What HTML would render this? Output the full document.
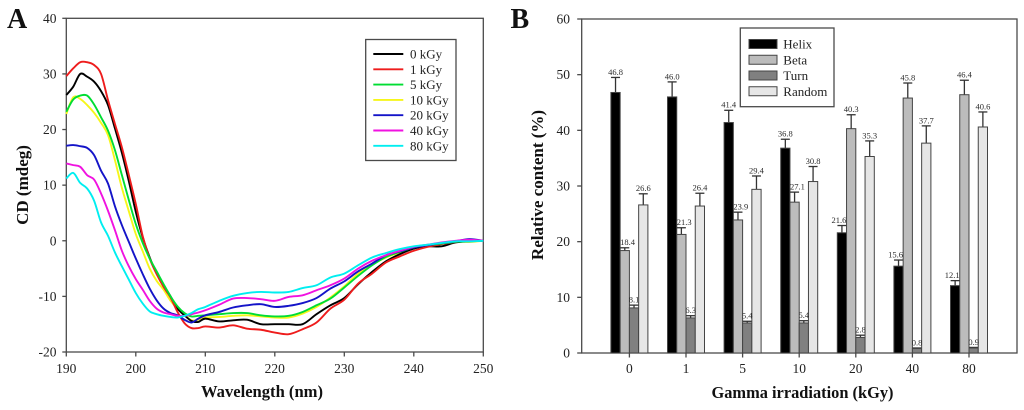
<!DOCTYPE html>
<html lang="en">
<head>
<meta charset="utf-8">
<title>CD spectra and secondary structure content</title>
<style>
html,body{margin:0;padding:0;background:#fff;}
#figure{display:block;width:1024px;height:410px;filter:blur(0.35px);font-family:"Liberation Serif",serif;}
</style>
</head>
<body>
<svg id="figure" xmlns="http://www.w3.org/2000/svg" width="1024" height="410" viewBox="0 0 1024 410"></svg>
<script>
// Panel A data
const wavelengths = [190,191,192,193,194,195,196,197,198,199,200,201,202,203,204,205,206,207,208,209,210,212,214,216,218,220,222,224,226,228,230,232,234,236,238,240,242,244,246,248,250];
const cd0kGy = [26.2,27.7,30,29.5,28.6,26.9,24.4,20.2,15.8,10.7,5.2,.6,-3,-5.9,-8,-10,-12.2,-13.4,-14.4,-14.6,-14,-14.5,-14.3,-14.2,-15,-15,-15,-15,-13.2,-11.6,-10.3,-7.8,-5.6,-3.7,-2.4,-1.4,-1,-1,-.3,-.1,0];
const cd1kGy = [29.6,31,32.1,32.1,31.6,30,25.3,21,16.8,11.8,6.6,.8,-3.2,-6,-8.3,-10.2,-12.8,-14.8,-15.7,-15.7,-15.4,-15.6,-15.2,-15.8,-16,-16.5,-16.8,-15.9,-14.7,-12.2,-10.6,-7.7,-5.9,-3.9,-2.8,-1.8,-1.1,-.6,-.2,0,0];
const cd5kGy = [23.2,25.4,26.1,26.1,24.5,22.2,19.8,16.3,11.8,7.3,3,-.4,-3.2,-5.5,-7.8,-10,-11.8,-13,-13.6,-13.5,-13.4,-13.2,-13,-13,-13.4,-13.6,-13.5,-12.8,-11.6,-10.4,-8.4,-6.3,-4.4,-2.9,-2,-1.2,-.8,-.5,-.2,-.1,0];
const cd10kGy = [22.8,25.8,25.5,24.4,23,21.2,19,14.5,9.5,5.3,1.2,-1.9,-5,-7.2,-8.8,-10.8,-12.2,-13.2,-14.3,-14.2,-13.8,-13.7,-13.5,-13.4,-13.6,-13.8,-13.8,-13.1,-11.9,-10.2,-8.2,-5.9,-4.3,-3,-2.1,-1.3,-.9,-.5,-.2,-.2,0];
const cd20kGy = [17.1,17.2,17,16.7,15.4,12.6,10.3,6.2,2.8,-.2,-3.2,-6,-8.6,-10.7,-12.2,-13,-13.4,-14.2,-14.7,-14,-13.4,-12.8,-12,-11.6,-11.4,-11.9,-11.7,-11.2,-10.3,-8.6,-7.3,-5.5,-4.1,-2.6,-1.9,-1.2,-.8,-.4,-.1,.3,0];
const cd40kGy = [13.9,13.6,13.3,11.8,11,8.5,5.4,1.9,-1.8,-4.6,-6.9,-8.8,-10.8,-12.2,-12.9,-13.2,-13.5,-13.5,-13.2,-12.9,-12.5,-11.5,-10.4,-10.3,-10.5,-10.8,-10.1,-9.8,-8.9,-8,-6.8,-5,-3.6,-2.6,-1.8,-1.1,-.7,-.3,0,.2,0];
const cd80kGy = [11.2,12.2,10.4,9.4,7.2,3.3,.9,-2.1,-4.6,-7,-9.4,-11.3,-12.7,-13.2,-13.5,-13.7,-13.8,-13.5,-13,-12.3,-11.9,-10.8,-9.9,-9.4,-9.2,-9.3,-9.2,-8.5,-8,-6.6,-5.9,-4.4,-3,-2.2,-1.5,-1,-.7,-.4,-.1,-.1,0];
const doseNames = ["0 kGy","1 kGy","5 kGy","10 kGy","20 kGy","40 kGy","80 kGy"];
const xTicksA = [190,200,210,220,230,240,250];
const yTicksA = [40,30,20,10,0,-10,-20];

// Panel B data
const doseCategories = ["0","1","5","10","20","40","80"];
const structureNames = ["Helix","Beta","Turn","Random"];
const helixValues = [46.8,46.0,41.4,36.8,21.6,15.6,12.1];
const betaValues = [18.4,21.3,23.9,27.1,40.3,45.8,46.4];
const turnValues = [8.1,6.3,5.4,5.4,2.8,0.8,0.9];
const randomValues = [26.6,26.4,29.4,30.8,35.3,37.7,40.6];
const helixErrors = [2.7,2.7,2.2,1.6,1.3,1.1,0.9];
const betaErrors = [0.5,1.2,1.4,1.8,2.5,2.7,2.6];
const turnErrors = [0.5,0.4,0.3,0.4,0.4,0.1,0.1];
const randomErrors = [2,2.3,2.4,2.7,2.8,3.1,2.7];
const yTicksB = [60,50,40,30,20,10,0];

const svg = document.getElementById('figure');
const NS = 'http://www.w3.org/2000/svg';
const AXIS = '#4a4a4a';
const INK = '#222';

function make(tag, attrs, parent) {
  const node = document.createElementNS(NS, tag);
  for (const k in attrs) node.setAttribute(k, attrs[k]);
  (parent || svg).appendChild(node);
  return node;
}
function slug(s) {
  return String(s).toLowerCase().replace(/[^a-z0-9]+/g, '-').replace(/^-|-$/g, '');
}

// Axis functions
const A = {left: 66.3, right: 483.3, top: 18.3, bottom: 352};
const B = {left: 581.7, right: 1017, top: 19, bottom: 353};
function xA(w) { return A.left + (w - 190) / 60 * (A.right - A.left); }
function yA(v) { return A.bottom - (v + 20) / 60 * (A.bottom - A.top); }
function yB(v) { return B.bottom - v / 60 * (B.bottom - B.top); }
function groupX(i) { return 629.4 + i * 56.6; }

function smoothPath(xs, ys) {
  const pts = xs.map(function (x, i) { return [xA(x), yA(ys[i])]; });
  let d = 'M' + pts[0][0].toFixed(2) + ' ' + pts[0][1].toFixed(2);
  for (let i = 0; i < pts.length - 1; i++) {
    const p0 = pts[Math.max(i - 1, 0)], p1 = pts[i], p2 = pts[i + 1], p3 = pts[Math.min(i + 2, pts.length - 1)];
    const c1x = p1[0] + (p2[0] - p0[0]) / 6, c1y = p1[1] + (p2[1] - p0[1]) / 6;
    const c2x = p2[0] - (p3[0] - p1[0]) / 6, c2y = p2[1] - (p3[1] - p1[1]) / 6;
    d += 'C' + c1x.toFixed(2) + ' ' + c1y.toFixed(2) + ' ' + c2x.toFixed(2) + ' ' + c2y.toFixed(2) + ' ' + p2[0].toFixed(2) + ' ' + p2[1].toFixed(2);
  }
  return d;
}

/* ---------- Panel A ---------- */
const panelA = make('g', {});



const letterA = make('text', {x: 7, y: 28, 'font-size': 28, 'font-weight': 'bold', fill: '#111'}, panelA);
letterA.textContent = 'A';



const frameA = make('rect', {x: A.left, y: A.top, width: A.right - A.left, height: A.bottom - A.top, fill: 'none', stroke: AXIS, 'stroke-width': 1.3}, panelA);



yTicksA.forEach(function (t) {
  const tick = make('line', {x1: A.left - 4, x2: A.left, y1: yA(t), y2: yA(t), stroke: AXIS, 'stroke-width': 1.3}, panelA);
  
  
  const label = make('text', {x: 56.5, y: yA(t) + 4.5, 'text-anchor': 'end', 'font-size': 13.5, fill: INK}, panelA);
  label.textContent = t;
  
  
});
xTicksA.forEach(function (t) {
  const tick = make('line', {x1: xA(t), x2: xA(t), y1: A.bottom, y2: A.bottom + 4.5, stroke: AXIS, 'stroke-width': 1.3}, panelA);
  
  
  const label = make('text', {x: xA(t), y: 373, 'text-anchor': 'middle', 'font-size': 13.5, fill: INK}, panelA);
  label.textContent = t;
  
  
});

const titleXA = make('text', {x: 262, y: 397, 'text-anchor': 'middle', 'font-size': 17, 'font-weight': 'bold', fill: '#111', textLength: 122, lengthAdjust: 'spacingAndGlyphs'}, panelA);
titleXA.textContent = 'Wavelength (nm)';



const titleYA = make('text', {transform: 'translate(28 185) rotate(-90)', 'text-anchor': 'middle', 'font-size': 17, 'font-weight': 'bold', fill: '#111'}, panelA);
titleYA.textContent = 'CD (mdeg)';



const cdSeries = [
  {values: cd0kGy, color: '#000000'},
  {values: cd1kGy, color: '#ee1c1c'},
  {values: cd5kGy, color: '#00dd33'},
  {values: cd10kGy, color: '#f6f61a'},
  {values: cd20kGy, color: '#1414c8'},
  {values: cd40kGy, color: '#f012e0'},
  {values: cd80kGy, color: '#00eef0'}
];
// Drawn with yellow under green, matching the overlap in the reference.
[3, 0, 1, 2, 4, 5, 6].forEach(function (i) {
  const line = make('path', {d: smoothPath(wavelengths, cdSeries[i].values), fill: 'none', stroke: cdSeries[i].color, 'stroke-width': 1.9, 'stroke-linejoin': 'round'}, panelA);
  
  
});

const legendA = make('g', {}, panelA);


const legendBoxA = make('rect', {x: 365.7, y: 39.5, width: 90.3, height: 121, fill: '#fff', stroke: AXIS, 'stroke-width': 1.3}, legendA);


doseNames.forEach(function (name, i) {
  const rowY = 54 + i * 15.3;
  const entry = make('g', {}, legendA);
  
  
  make('line', {x1: 373.3, x2: 403.3, y1: rowY, y2: rowY, stroke: cdSeries[i].color, 'stroke-width': 1.9}, entry);
  const label = make('text', {x: 410, y: rowY + 4.5, 'font-size': 13, fill: INK}, entry);
  label.textContent = name;
});

/* ---------- Panel B ---------- */
const panelB = make('g', {});



const letterB = make('text', {x: 510.5, y: 28, 'font-size': 28, 'font-weight': 'bold', fill: '#111'}, panelB);
letterB.textContent = 'B';



const frameB = make('rect', {x: B.left, y: B.top, width: B.right - B.left, height: B.bottom - B.top, fill: 'none', stroke: AXIS, 'stroke-width': 1.3}, panelB);



yTicksB.forEach(function (t) {
  const tick = make('line', {x1: B.left - 4.5, x2: B.left, y1: yB(t), y2: yB(t), stroke: AXIS, 'stroke-width': 1.3}, panelB);
  
  
  const label = make('text', {x: 570, y: yB(t) + 4.5, 'text-anchor': 'end', 'font-size': 13.5, fill: INK}, panelB);
  label.textContent = t;
  
  
});
doseCategories.forEach(function (c, i) {
  const tick = make('line', {x1: groupX(i), x2: groupX(i), y1: B.bottom, y2: B.bottom + 4.5, stroke: AXIS, 'stroke-width': 1.3}, panelB);
  
  
  const label = make('text', {x: groupX(i), y: 373, 'text-anchor': 'middle', 'font-size': 13.5, fill: INK}, panelB);
  label.textContent = c;
  
  
});

const titleXB = make('text', {x: 802.5, y: 398, 'text-anchor': 'middle', 'font-size': 17, 'font-weight': 'bold', fill: '#111', textLength: 182, lengthAdjust: 'spacingAndGlyphs'}, panelB);
titleXB.textContent = 'Gamma irradiation (kGy)';



const titleYB = make('text', {transform: 'translate(543 185) rotate(-90)', 'text-anchor': 'middle', 'font-size': 17, 'font-weight': 'bold', fill: '#111'}, panelB);
titleYB.textContent = 'Relative content (%)';



const barSeries = [
  {values: helixValues, errors: helixErrors, fill: '#000000'},
  {values: betaValues, errors: betaErrors, fill: '#bcbcbc'},
  {values: turnValues, errors: turnErrors, fill: '#808080'},
  {values: randomValues, errors: randomErrors, fill: '#e6e6e6'}
];
const BAR_W = 9.25;
function barLeft(si, i) { return groupX(i) - 2 * BAR_W + si * BAR_W; }

barSeries.forEach(function (s, si) {
  s.values.forEach(function (v, i) {
    const left = barLeft(si, i);
    const center = left + BAR_W / 2;
    const top = yB(v + s.errors[i]);
    const stem = make('line', {x1: center, x2: center, y1: top, y2: yB(v), stroke: '#333', 'stroke-width': 1.3}, panelB);
    
    
    const cap = make('line', {x1: center - 4.5, x2: center + 4.5, y1: top, y2: top, stroke: '#333', 'stroke-width': 1.3}, panelB);
    
    
    const bar = make('rect', {x: left, y: yB(v), width: BAR_W, height: yB(0) - yB(v), fill: s.fill, stroke: '#444', 'stroke-width': 1}, panelB);
    
    
  });
});
// Value labels go on top of every bar; a helix or beta label sitting beside a
// taller neighbour is nudged away from it, as in the reference.
function labelNudge(si, i) {
  if (si === 0 && betaValues[i] > helixValues[i] + helixErrors[i]) return -3;
  if (si === 1 && helixValues[i] > betaValues[i] + betaErrors[i]) return 2.8;
  return 0;
}
barSeries.forEach(function (s, si) {
  s.values.forEach(function (v, i) {
    const center = barLeft(si, i) + BAR_W / 2 + labelNudge(si, i);
    const top = yB(v + s.errors[i]);
    const label = make('text', {x: center, y: top - 2.6, 'text-anchor': 'middle', 'font-size': 8.5, fill: '#2c2c2c'}, panelB);
    label.textContent = v.toFixed(1);
    
    
  });
});

const legendB = make('g', {}, panelB);


const legendBoxB = make('rect', {x: 740.3, y: 28, width: 93.7, height: 78.7, fill: '#fff', stroke: AXIS, 'stroke-width': 1.3}, legendB);


structureNames.forEach(function (name, i) {
  const rowY = 39.5 + i * 15.75;
  const entry = make('g', {}, legendB);
  
  
  make('rect', {x: 749, y: rowY, width: 28, height: 9, fill: barSeries[i].fill, stroke: '#444', 'stroke-width': 1}, entry);
  const label = make('text', {x: 783.3, y: rowY + 9, 'font-size': 13, fill: INK}, entry);
  label.textContent = name;
});
</script>
</body>
</html>
